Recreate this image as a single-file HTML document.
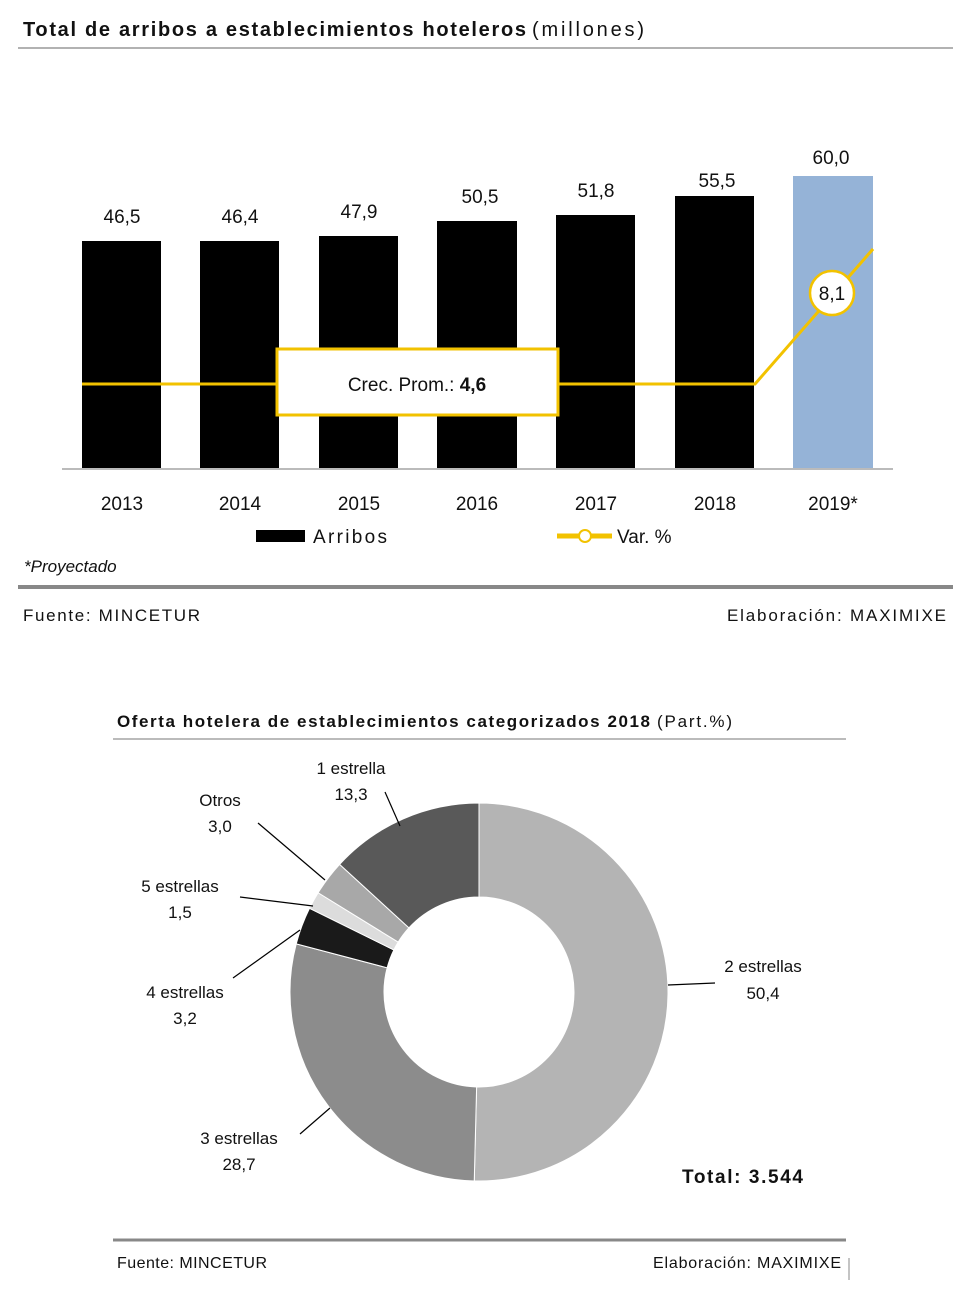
<!DOCTYPE html>
<html><head><meta charset="utf-8"><style>
body{margin:0;background:#fff;width:980px;height:1299px;overflow:hidden}
svg{display:block}
text{font-family:"Liberation Sans",sans-serif;fill:#111}
</style></head><body>
<svg width="980" height="1299" viewBox="0 0 980 1299">
<text x="23" y="36" font-size="20" font-weight="bold" textLength="503" lengthAdjust="spacing">Total de arribos a establecimientos hoteleros</text>
<text x="532" y="36" font-size="20" textLength="112" lengthAdjust="spacing">(millones)</text>
<line x1="18" y1="48" x2="953" y2="48" stroke="#999" stroke-width="1.5"/>
<g fill="#000">
<rect x="82" y="241" width="79" height="228"/>
<rect x="200" y="241" width="79" height="228"/>
<rect x="319" y="236" width="79" height="233"/>
<rect x="437" y="221" width="80" height="248"/>
<rect x="556" y="215" width="79" height="254"/>
<rect x="675" y="196" width="79" height="273"/>
</g>
<rect x="793" y="176" width="80" height="293" fill="#95b3d7"/>
<line x1="62" y1="469" x2="893" y2="469" stroke="#bbb" stroke-width="2"/>
<g font-size="19" text-anchor="middle">
<text x="122" y="223">46,5</text><text x="240" y="223">46,4</text><text x="359" y="218">47,9</text>
<text x="480" y="203">50,5</text><text x="596" y="197">51,8</text><text x="717" y="187">55,5</text><text x="831" y="164">60,0</text>
<text x="122" y="510">2013</text><text x="240" y="510">2014</text><text x="359" y="510">2015</text>
<text x="477" y="510">2016</text><text x="596" y="510">2017</text><text x="715" y="510">2018</text><text x="833" y="510">2019*</text>
</g>
<polyline points="82,384 755,384 873,249" fill="none" stroke="#f2c200" stroke-width="3"/>
<rect x="277" y="349" width="281" height="66" fill="#fff" stroke="#f2c200" stroke-width="3"/>
<text x="417" y="391" font-size="19" text-anchor="middle">Crec. Prom.: <tspan font-weight="bold">4,6</tspan></text>
<circle cx="832" cy="293" r="22" fill="#fff" stroke="#f2c200" stroke-width="2.5"/>
<text x="832" y="300" font-size="19" text-anchor="middle">8,1</text>
<rect x="256" y="530" width="49" height="12" fill="#000"/>
<text x="313" y="543" font-size="19" textLength="74" lengthAdjust="spacing">Arribos</text>
<line x1="557" y1="536" x2="612" y2="536" stroke="#f2c200" stroke-width="5"/>
<circle cx="585" cy="536" r="6" fill="#fff" stroke="#f2c200" stroke-width="2"/>
<text x="617" y="543" font-size="19">Var. %</text>
<text x="24" y="572" font-size="17" font-style="italic">*Proyectado</text>
<line x1="18" y1="587" x2="953" y2="587" stroke="#888" stroke-width="4"/>
<text x="23" y="621" font-size="17" textLength="177" lengthAdjust="spacing">Fuente: MINCETUR</text>
<text x="727" y="621" font-size="17" textLength="219" lengthAdjust="spacing">Elaboración: MAXIMIXE</text>

<text x="117" y="727" font-size="17" font-weight="bold" textLength="533" lengthAdjust="spacing">Oferta hotelera de establecimientos categorizados 2018</text>
<text x="657" y="727" font-size="17" textLength="75" lengthAdjust="spacing">(Part.%)</text>
<line x1="113" y1="739" x2="846" y2="739" stroke="#777" stroke-width="1"/>
<g stroke="#fff" stroke-width="1">
<path d="M479,803 A189,189 0 1 1 474.25,1180.94 L476.61,1086.97 A95,95 0 1 0 479,897 Z" fill="#b4b4b4"/>
<path d="M474.25,1180.94 A189,189 0 0 1 296.24,943.85 L387.14,967.80 A95,95 0 0 0 476.61,1086.97 Z" fill="#8c8c8c"/>
<path d="M296.24,943.85 A189,189 0 0 1 309.53,908.32 L393.82,949.94 A95,95 0 0 0 387.14,967.80 Z" fill="#1a1a1a"/>
<path d="M309.53,908.32 A189,189 0 0 1 318.14,892.74 L398.14,942.11 A95,95 0 0 0 393.82,949.94 Z" fill="#dcdcdc"/>
<path d="M318.14,892.74 A189,189 0 0 1 339.60,864.37 L408.93,927.85 A95,95 0 0 0 398.14,942.11 Z" fill="#a8a8a8"/>
<path d="M339.60,864.37 A189,189 0 0 1 479,803 L479,897 A95,95 0 0 0 408.93,927.85 Z" fill="#595959"/>
</g>
<g stroke="#000" stroke-width="1.2">
<line x1="668" y1="985" x2="715" y2="983"/>
<line x1="330" y1="1108" x2="300" y2="1134"/>
<line x1="300" y1="930" x2="233" y2="978"/>
<line x1="313" y1="906" x2="240" y2="897"/>
<line x1="325" y1="880" x2="258" y2="823"/>
<line x1="400" y1="826" x2="385" y2="792"/>
</g>
<g font-size="17" text-anchor="middle">
<text x="763" y="972">2 estrellas</text><text x="763" y="999">50,4</text>
<text x="239" y="1144">3 estrellas</text><text x="239" y="1170">28,7</text>
<text x="185" y="998">4 estrellas</text><text x="185" y="1024">3,2</text>
<text x="180" y="892">5 estrellas</text><text x="180" y="918">1,5</text>
<text x="220" y="806">Otros</text><text x="220" y="832">3,0</text>
<text x="351" y="774">1 estrella</text><text x="351" y="800">13,3</text>
</g>
<text x="682" y="1183" font-size="19" font-weight="bold" textLength="121" lengthAdjust="spacing">Total: 3.544</text>
<line x1="113" y1="1240" x2="846" y2="1240" stroke="#888" stroke-width="3"/>
<text x="117" y="1268" font-size="16" textLength="150" lengthAdjust="spacing">Fuente: MINCETUR</text>
<text x="653" y="1268" font-size="16" textLength="188" lengthAdjust="spacing">Elaboración: MAXIMIXE</text>
<line x1="849" y1="1258" x2="849" y2="1280" stroke="#888" stroke-width="1"/>
</svg>
</body></html>
